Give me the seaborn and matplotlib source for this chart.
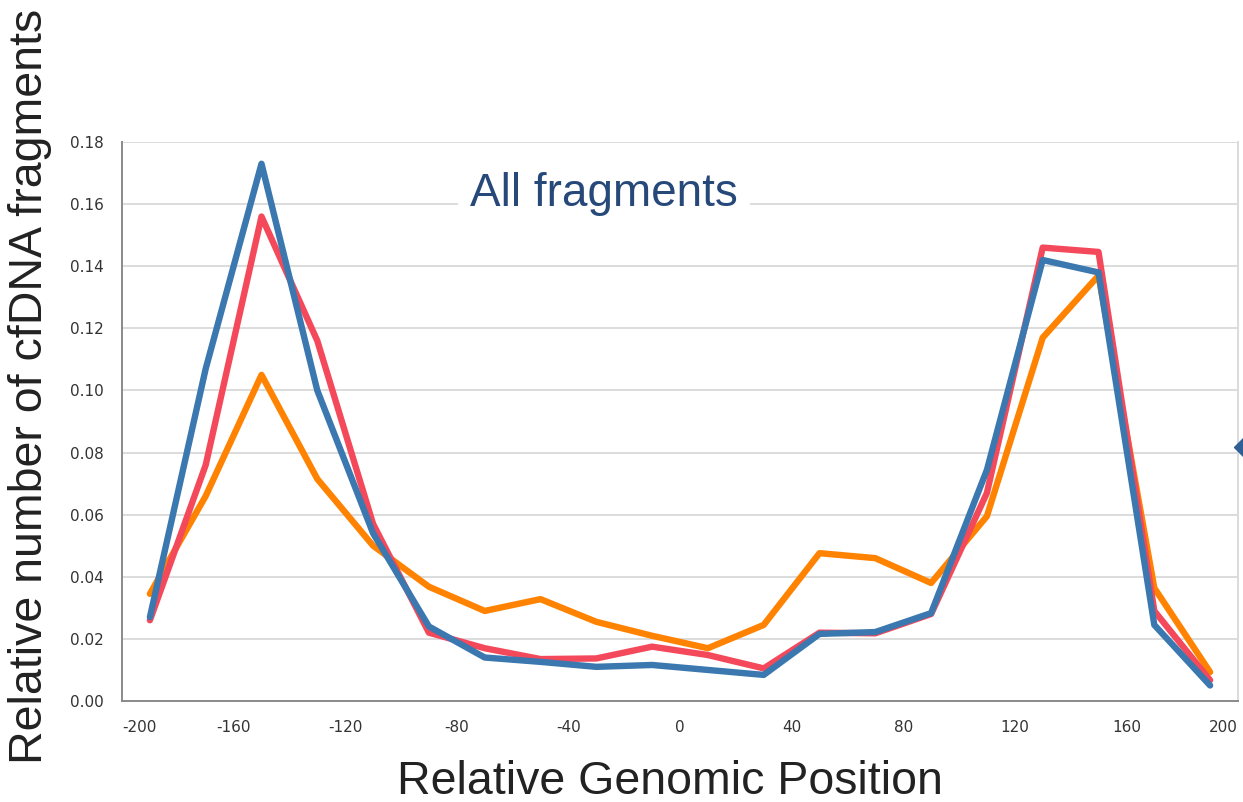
import numpy as np
import pandas as pd
import matplotlib
matplotlib.use("Agg")
import matplotlib.pyplot as plt
from matplotlib.lines import Line2D
import seaborn as sns

positions = [-190, -170, -150, -130, -110, -90, -70, -50, -30, -10,
             10, 30, 50, 70, 90, 110, 130, 150, 170, 190]
series_orange = [0.0345, 0.066, 0.105, 0.0715, 0.050, 0.0368, 0.029, 0.0328, 0.0255, 0.021,
                 0.017, 0.0245, 0.0476, 0.046, 0.038, 0.0595, 0.117, 0.137, 0.0364, 0.0093]
series_red = [0.026, 0.076, 0.156, 0.116, 0.057, 0.022, 0.017, 0.0135, 0.0137, 0.0175,
              0.0148, 0.0105, 0.022, 0.0218, 0.028, 0.067, 0.146, 0.1446, 0.029, 0.0067]
series_blue = [0.027, 0.107, 0.173, 0.100, 0.054, 0.024, 0.014, 0.0126, 0.011, 0.0116,
               0.010, 0.0084, 0.0216, 0.0222, 0.0283, 0.0744, 0.142, 0.138, 0.0245, 0.005]
series_names = ["orange", "red", "blue"]
colors = {"orange": "#FF8200", "red": "#F4495A", "blue": "#3B78AF"}
x_ticks = [-200, -160, -120, -80, -40, 0, 40, 80, 120, 160, 200]
y_ticks = [0.00, 0.02, 0.04, 0.06, 0.08, 0.10, 0.12, 0.14, 0.16, 0.18]

df = pd.DataFrame({
    "pos": positions * 3,
    "value": series_orange + series_red + series_blue,
    "series": [n for n in series_names for _ in positions],
})

sns.set_theme(style="white")
plt.rcParams["font.family"] = ["DejaVu Sans"]

fig = plt.figure(figsize=(12.43, 8.02), dpi=100)
ax = fig.add_axes([122 / 1243, 1 - 701 / 802, (1238 - 122) / 1243, (701 - 142) / 802])

sns.lineplot(data=df, x="pos", y="value", hue="series", palette=colors,
             hue_order=series_names, linewidth=4.6, legend=False, ax=ax,
             zorder=3)

ax.set_xlim(-200, 200)
ax.set_ylim(0, 0.18)
ax.set_xticks(np.arange(-200, 201, 20), minor=True)
ax.set_xticks(x_ticks)
ax.set_xticklabels([str(t) for t in x_ticks])
ax.set_yticks(y_ticks)
ax.set_yticklabels([f"{t:.2f}" for t in y_ticks])

ax.yaxis.grid(True, color="#DCDCDC", linewidth=1.4)
ax.set_axisbelow(True)

for side in ["left", "bottom"]:
    ax.spines[side].set_color("#8A8A8A")
    ax.spines[side].set_linewidth(1.4)
ax.spines["right"].set_color("#DCDCDC")
ax.spines["right"].set_linewidth(1.4)
ax.spines["top"].set_visible(False)

ax.tick_params(axis="both", which="both", direction="out", length=9, width=1.3,
               color="#8A8A8A", labelsize=11, labelcolor="#333333", pad=4)
ax.tick_params(axis="x", which="major", pad=5)

xl = ax.get_xticklabels()
xl[0].set_ha("left")
xl[-1].set_ha("right")

ax.set_xlabel("Relative Genomic Position", fontsize=33.5, family="Liberation Sans",
              color="#222222")
ax.xaxis.set_label_coords(0.491, -0.106)
ax.set_ylabel("Relative number of cfDNA fragments", fontsize=33.5, family="Liberation Sans",
              color="#222222")
ax.yaxis.set_label_coords(-0.063, 0.5635)

ax.text(0.432, 0.907, "All fragments", transform=ax.transAxes, ha="center", va="center",
        fontsize=33, family="Liberation Sans", color="#26497A", zorder=4,
        bbox=dict(facecolor="white", edgecolor="none", pad=9))

fig.add_artist(Line2D([1.0], [1 - 447 / 802], marker="D", markersize=9,
                      color="#2F5F95", linestyle="none", transform=fig.transFigure,
                      clip_on=False))

fig.savefig("out.png", dpi=100)
